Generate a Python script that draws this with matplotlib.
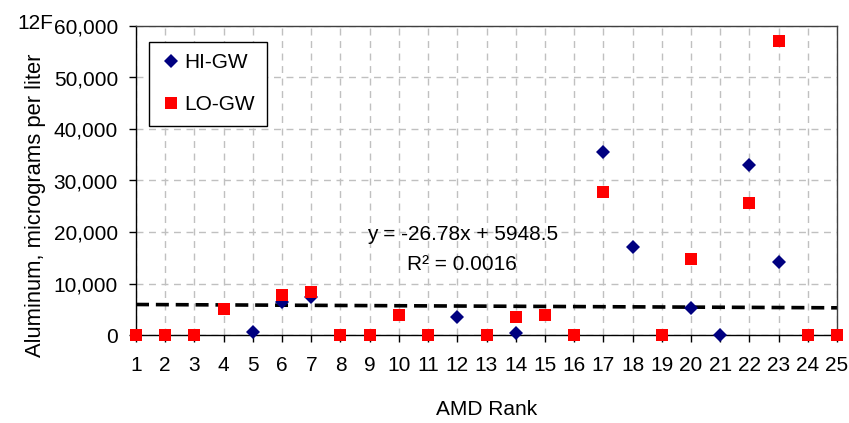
import numpy as np
import matplotlib
matplotlib.use("Agg")
import matplotlib.pyplot as plt
from matplotlib.lines import Line2D

plt.rcParams['font.family'] = ['Liberation Sans', 'DejaVu Sans']

nan = np.nan
ranks = list(range(1, 26))
hi_gw = [nan, nan, nan, nan, 650, 6500, 7400, nan, nan, nan, nan, 3550, nan, 400,
         nan, nan, 35600, 17100, nan, 5200, 0, 33100, 14200, nan, nan]
lo_gw = [0, 0, 0, 5050, nan, 7770, 8400, 0, 0, 3900, 0, nan, 0, 3550, 3900, 0,
         27700, nan, 0, 14700, nan, 25700, 57000, 0, 0]
trend_slope = -26.78
trend_intercept = 5948.5
y_ticks = [0, 10000, 20000, 30000, 40000, 50000, 60000]
y_tick_labels = ['0', '10,000', '20,000', '30,000', '40,000', '50,000', '60,000']

fig = plt.figure(figsize=(8.49, 4.23), dpi=100)
ax = fig.add_axes([136/849, 1-335/423, (837-136)/849, (335-26)/423])

ax.set_xlim(1, 25)
ax.set_ylim(0, 60000)

ax.set_xticks(ranks)
ax.set_xticklabels([str(r) for r in ranks])
ax.set_yticks(y_ticks)
ax.set_yticklabels(y_tick_labels)
ax.grid(True, color='#c0c0c0', linestyle=(0, (5, 4)), linewidth=1.0, zorder=0)
ax.set_axisbelow(True)

# trendline
xt = np.array([ranks[0], ranks[-1]], dtype=float)
ax.plot(xt, trend_slope * xt + trend_intercept, color='black', linewidth=2.6,
        linestyle=(0, (3.6, 1.9)), zorder=2, clip_on=False)

ms_d = 7.4
ms_s = 9.0
ax.plot(ranks, hi_gw, linestyle='none', marker='D', markersize=ms_d,
        color='#000080', markeredgewidth=0, zorder=3, clip_on=False, label='HI-GW')
ax.plot(ranks, lo_gw, linestyle='none', marker='s', markersize=ms_s,
        color='#ff0000', markeredgewidth=0, zorder=4, clip_on=False, label='LO-GW')

for side in ['left', 'bottom']:
    ax.spines[side].set_color('black')
    ax.spines[side].set_linewidth(1.0)
for side in ['top', 'right']:
    ax.spines[side].set_color('#404040')
    ax.spines[side].set_linewidth(1.0)

ax.tick_params(axis='x', direction='out', length=5, width=1, pad=10, labelsize=15)
ax.tick_params(axis='y', direction='out', length=5, width=1, pad=8, labelsize=15)

ax.set_xlabel('AMD Rank', fontsize=15, labelpad=18)
fig.text(36/849, 1-205/423, 'Aluminum, micrograms per liter', rotation=90,
         fontsize=15.8, ha='center', va='center')
fig.text(17/849, 1-29/423, '12F', fontsize=15, ha='left', va='baseline')

fig.text(463/849, 1-234/423, 'y = -26.78x + 5948.5', fontsize=15, ha='center', va='center')
fig.text(462/849, 1-265/423, 'R² = 0.0016', fontsize=15, ha='center', va='center')

handles = [Line2D([], [], linestyle='none', marker='D', markersize=ms_d, color='#000080', markeredgewidth=0),
           Line2D([], [], linestyle='none', marker='s', markersize=ms_s, color='#ff0000', markeredgewidth=0)]
leg = ax.legend(handles, ['HI-GW', 'LO-GW'], loc='upper left',
                bbox_to_anchor=((149-136)/701, 1-(42-26)/309), fontsize=15,
                frameon=True, fancybox=False, framealpha=1, edgecolor='black',
                borderpad=0.55, handletextpad=0.15, handlelength=1.0, labelspacing=1.1,
                borderaxespad=0)
leg.get_frame().set_linewidth(1.0)

fig.savefig('out.png', dpi=100)
